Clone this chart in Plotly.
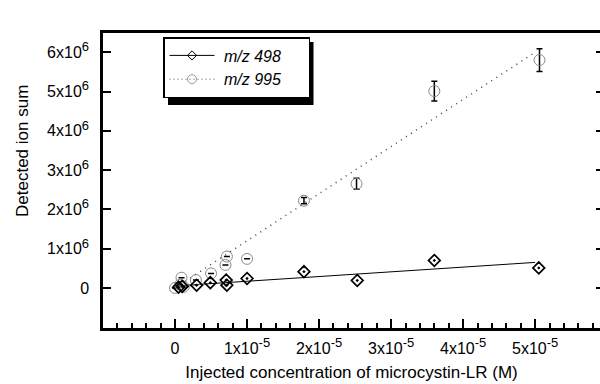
import plotly.graph_objects as go

# ---- data ----
x498 = [0.05e-5, 0.1e-5, 0.3e-5, 0.49e-5, 0.71e-5, 0.72e-5, 1.0e-5, 1.79e-5, 2.53e-5, 3.6e-5, 5.05e-5]
y498 = [0.02e6, 0.04e6, 0.07e6, 0.135e6, 0.2e6, 0.07e6, 0.24e6, 0.415e6, 0.19e6, 0.70e6, 0.51e6]

x995 = [0.0, 0.07e-5, 0.09e-5, 0.12e-5, 0.29e-5, 0.5e-5, 0.70e-5, 0.72e-5, 1.0e-5, 1.79e-5, 2.52e-5, 3.6e-5, 5.06e-5]
y995 = [0.0, 0.08e6, 0.26e6, 0.03e6, 0.2e6, 0.37e6, 0.585e6, 0.80e6, 0.74e6, 2.22e6, 2.65e6, 5.01e6, 5.80e6]
err995 = [None, None, None, None, None, None, None, None, None, 0.08e6, 0.14e6, 0.25e6, 0.29e6]

fit_x = [0.0, 5.0e-5]
fit498_y = [0.05e6, 0.65e6]
fit995_y = [0.0, 6.0e6]

SUP = '<sup><span style="font-size:13px">{}</span></sup>'
xtick_vals = [0, 1e-5, 2e-5, 3e-5, 4e-5, 5e-5]
xtick_text = ["0"] + ["{}x10".format(i) + SUP.format("-5") for i in range(1, 6)]
ytick_vals = [0, 1e6, 2e6, 3e6, 4e6, 5e6, 6e6]
ytick_text = ["0"] + ["{}x10".format(i) + SUP.format("6") for i in range(1, 7)]

legend_names = ["m/z 498", "m/z 995"]

FONT = "Liberation Sans, Arial, sans-serif"
NB = "\u00a0"

fig = go.Figure()

# fit lines (no legend)
fig.add_trace(go.Scatter(x=fit_x, y=fit995_y, mode="lines",
                         line=dict(color="#444444", width=1.5, dash="1px,5px"), showlegend=False, hoverinfo="skip"))
fig.add_trace(go.Scatter(x=fit_x, y=fit498_y, mode="lines",
                         line=dict(color="black", width=1), showlegend=False, hoverinfo="skip"))

# points
fig.add_trace(go.Scatter(x=x995, y=y995, mode="markers", showlegend=False,
                         marker=dict(symbol="circle-open", size=11, color="#8a8a8a", line=dict(width=1, color="#8a8a8a")),
                         error_y=dict(type="data", array=err995, color="black", thickness=1.5, width=3)))
fig.add_trace(go.Scatter(x=x498, y=y498, mode="markers", showlegend=False,
                         marker=dict(symbol="diamond-open-dot", size=9, color="black", line=dict(width=1.7, color="black"))))

# legend entries
fig.add_trace(go.Scatter(x=[None], y=[None], mode="lines+markers",
                         name=NB + "<i>" + legend_names[0] + "</i>" + NB * 5,
                         line=dict(color="black", width=1),
                         marker=dict(symbol="diamond-open", size=7, color="black", line=dict(width=1, color="black"))))
fig.add_trace(go.Scatter(x=[None], y=[None], mode="lines+markers",
                         name=NB + "<i>" + legend_names[1] + "</i>" + NB * 5,
                         line=dict(color="#555555", width=1, dash="1px,3px"),
                         marker=dict(symbol="circle-open", size=9, color="#999999", line=dict(width=1, color="#999999"))))

# invisible trace so the right-hand tick axis is drawn
fig.add_trace(go.Scatter(x=fit_x[:1], y=fit995_y[:1], yaxis="y2", mode="markers", showlegend=False,
                         hoverinfo="skip", marker=dict(opacity=0)))

W, H = 600, 384
ml, mr, mt, mb = 103, 0, 33, 56
pw, ph = W - ml - mr, H - mt - mb

def px2paper(px, py):
    return (px - ml) / pw, (H - mb - py) / ph

# legend drop shadow
sx0, sy0 = px2paper(168, 42)
sx1, sy1 = px2paper(313.5, 105)
fig.add_shape(type="rect", xref="paper", yref="paper", x0=sx0, y0=sy1, x1=sx1, y1=sy0,
              fillcolor="black", line=dict(width=0), layer="above")

lx, ly = px2paper(163, 37)
tx, ty = px2paper(22, 151)

fig.add_annotation(text="Detected ion sum", xref="paper", yref="paper", x=tx, y=ty,
                   textangle=-90, showarrow=False, font=dict(size=17, family=FONT),
                   xanchor="center", yanchor="middle")

fig.update_layout(
    width=W, height=H,
    margin=dict(l=ml, r=mr, t=mt, b=mb),
    paper_bgcolor="white", plot_bgcolor="white",
    font=dict(family=FONT, size=16, color="black"),
    showlegend=True,
    legend=dict(x=lx, y=ly, xanchor="left", yanchor="top", bgcolor="white",
                bordercolor="black", borderwidth=1.5, font=dict(size=16, family=FONT),
                tracegroupgap=0, itemsizing="trace", itemwidth=45),
    xaxis=dict(range=[-1e-5, 5.9e-5], showgrid=False, zeroline=False,
               showline=True, linewidth=2.5, linecolor="black", mirror=True,
               ticks="inside", ticklen=9, tickwidth=1.5, tickcolor="black",
               tickvals=xtick_vals, ticktext=xtick_text, ticklabelstandoff=4,
               tickfont=dict(size=16),
               minor=dict(dtick=0.2e-5, tick0=0, ticks="inside", ticklen=5, tickwidth=1.5, tickcolor="black"),
               title=dict(text="Injected concentration of microcystin-LR (M)", standoff=11,
                          font=dict(size=17))),
    yaxis=dict(range=[-1.02e6, 6.49e6], showgrid=False, zeroline=False,
               showline=True, linewidth=2.5, linecolor="black", mirror=False,
               ticks="inside", ticklen=8, tickwidth=1.5, tickcolor="black",
               tickvals=ytick_vals, ticktext=ytick_text, ticklabelstandoff=8,
               tickfont=dict(size=16)),
    yaxis2=dict(range=[-1.02e6, 6.49e6], overlaying="y", side="right", showgrid=False, zeroline=False,
                showline=False, ticks="inside", ticklen=4, tickwidth=1.5, tickcolor="black",
                tickvals=ytick_vals, showticklabels=False),
)

fig.write_html("out.html")
